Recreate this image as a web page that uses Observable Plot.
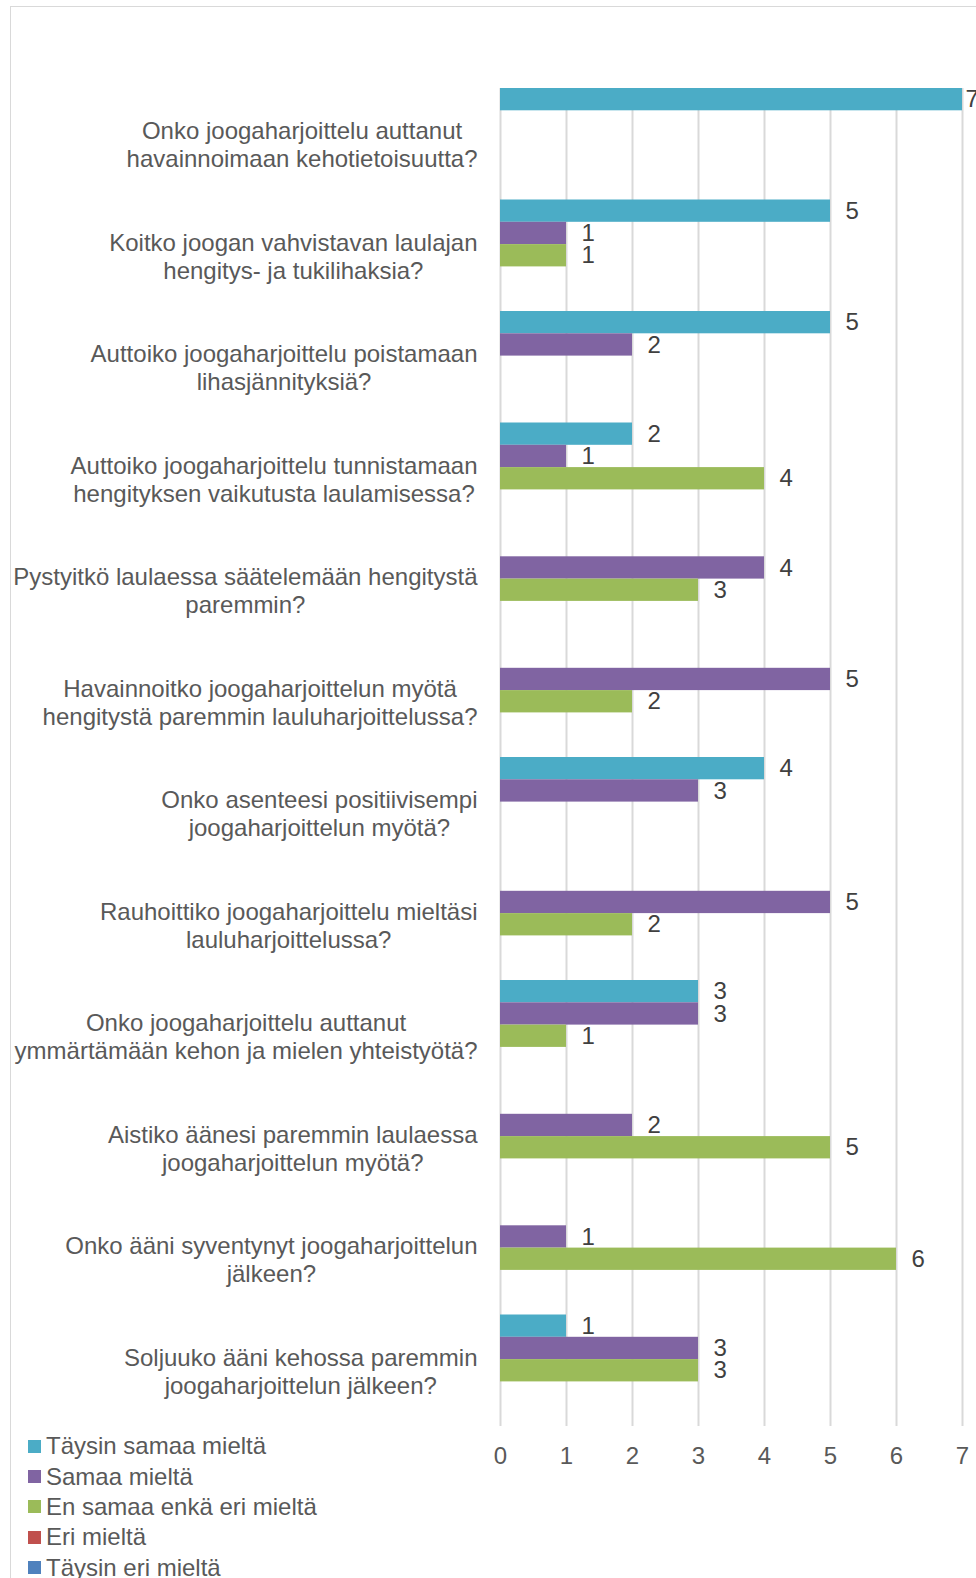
<!DOCTYPE html>
<html>
<head>
<meta charset="utf-8">
<script src="https://cdn.jsdelivr.net/npm/d3@7"></script>
<script src="https://cdn.jsdelivr.net/npm/@observablehq/plot@0.6"></script>
<style>
  html, body { margin: 0; padding: 0; background: #fff; }
  body { width: 976px; height: 1578px; position: relative; overflow: hidden; font-family: 'Liberation Sans', Arial, sans-serif; }
  #frame { position: absolute; left: 10px; top: 6px; width: 1000px; height: 1600px; border: 1px solid #d9d9d9; box-sizing: border-box; }
  #chart { position: absolute; left: 0; top: 0; }
  #legend { position: absolute; left: 28px; top: 1431px; font-size: 24px; color: #595959; }
  .row { display: flex; align-items: center; height: 30.4px; }
  .sw { width: 13px; height: 13px; margin-right: 5px; flex: none; }
</style>
</head>
<body>
<div id="frame"></div>
<div id="chart"></div>
<div id="legend"></div>
<script>
const questions = [
  ["Onko joogaharjoittelu auttanut", "havainnoimaan kehotietoisuutta?"],
  ["Koitko joogan vahvistavan laulajan", "hengitys- ja tukilihaksia?"],
  ["Auttoiko joogaharjoittelu poistamaan", "lihasjännityksiä?"],
  ["Auttoiko joogaharjoittelu tunnistamaan", "hengityksen vaikutusta laulamisessa?"],
  ["Pystyitkö laulaessa säätelemään hengitystä", "paremmin?"],
  ["Havainnoitko joogaharjoittelun myötä", "hengitystä paremmin lauluharjoittelussa?"],
  ["Onko asenteesi positiivisempi", "joogaharjoittelun myötä?"],
  ["Rauhoittiko joogaharjoittelu mieltäsi", "lauluharjoittelussa?"],
  ["Onko joogaharjoittelu auttanut", "ymmärtämään kehon ja mielen yhteistyötä?"],
  ["Aistiko äänesi paremmin laulaessa", "joogaharjoittelun myötä?"],
  ["Onko ääni syventynyt joogaharjoittelun", "jälkeen?"],
  ["Soljuuko ääni kehossa paremmin", "joogaharjoittelun jälkeen?"]
];
const seriesNames = ["Täysin samaa mieltä", "Samaa mieltä", "En samaa enkä eri mieltä", "Eri mieltä", "Täysin eri mieltä"];
const seriesColors = ["#4BACC6", "#8064A2", "#9BBB59", "#C0504D", "#4F81BD"];
const taysinSamaa = [7, 5, 5, 2, 0, 0, 4, 0, 3, 0, 0, 1];
const samaa       = [0, 1, 2, 1, 4, 5, 3, 5, 3, 2, 1, 3];
const enSamaa     = [0, 1, 0, 4, 3, 2, 0, 2, 1, 5, 6, 3];
const eri         = [0, 0, 0, 0, 0, 0, 0, 0, 0, 0, 0, 0];
const taysinEri   = [0, 0, 0, 0, 0, 0, 0, 0, 0, 0, 0, 0];
const xTicks = [0, 1, 2, 3, 4, 5, 6, 7];

const seriesValues = [taysinSamaa, samaa, enSamaa, eri, taysinEri];
const key = (qi, si) => `${qi}|${si}`;
const yDomain = [];
const rows = [];
questions.forEach((q, qi) => {
  seriesNames.forEach((s, si) => {
    yDomain.push(key(qi, si));
    rows.push({key: key(qi, si), series: s, value: seriesValues[si][qi]});
  });
});
const bars = rows.filter(d => d.value > 0);
const maxV = d3.max(bars, d => d.value);

const FONT = "'Liberation Sans', Arial, sans-serif";
const LABEL_SIZE = 24;
const ctx = document.createElement("canvas").getContext("2d");
ctx.font = `${LABEL_SIZE}px ${FONT}`;
const labelMarks = questions.map((q, qi) => {
  const w = d3.max(q, line => ctx.measureText(line).width);
  return Plot.text([q.join("\n")], {
    y: () => key(qi, 2),
    frameAnchor: "left",
    textAnchor: "middle",
    dx: -23 - w / 2,
    lineHeight: 1.175,
    fontSize: LABEL_SIZE,
    fill: "#595959"
  });
});

const chart = Plot.plot({
  width: 976,
  height: 1480,
  marginLeft: 500,
  marginRight: 14,
  marginTop: 88,
  marginBottom: 54,
  style: {fontFamily: FONT, fontSize: "24px", background: "transparent"},
  x: {domain: [0, 7], axis: null},
  y: {type: "band", domain: yDomain, padding: 0, round: false, axis: null},
  color: {domain: seriesNames, range: seriesColors},
  marks: [
    Plot.ruleX(xTicks, {stroke: "#d9d9d9", strokeWidth: 2}),
    Plot.barX(bars, {x: "value", y: "key", fill: "series", insetTop: 0, insetBottom: 0}),
    Plot.text(bars.filter(d => d.value < maxV), {x: "value", y: "key", text: d => String(d.value), textAnchor: "start", dx: 15, fontSize: 24, fill: "#404040"}),
    Plot.text(bars.filter(d => d.value === maxV), {x: "value", y: "key", text: d => String(d.value), textAnchor: "start", dx: 3, fontSize: 24, fill: "#404040"}),
    Plot.axisX(xTicks, {tickSize: 0, tickPadding: 20, fontSize: 24, color: "#595959", label: null}),
    ...labelMarks
  ]
});
document.getElementById("chart").appendChild(chart);

const legend = document.getElementById("legend");
seriesNames.forEach((s, i) => {
  const row = document.createElement("div");
  row.className = "row";
  const sw = document.createElement("span");
  sw.className = "sw";
  sw.style.background = seriesColors[i];
  const t = document.createElement("span");
  t.textContent = s;
  row.appendChild(sw);
  row.appendChild(t);
  legend.appendChild(row);
});
</script>
</body>
</html>
